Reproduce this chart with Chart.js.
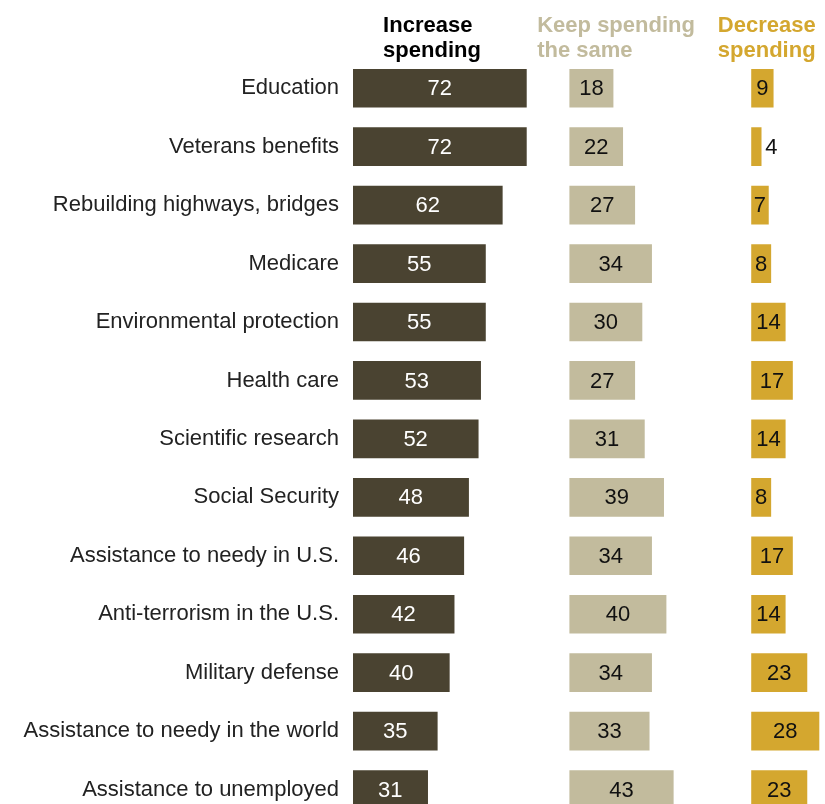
<!DOCTYPE html>
<html>
<head>
<meta charset="utf-8">
<script src="https://cdn.jsdelivr.net/npm/chart.js@4.4.1/dist/chart.umd.min.js"></script>
<style>
  html, body { margin: 0; padding: 0; background: #fff; overflow: hidden; }
  canvas { display: block; }
</style>
</head>
<body>
<canvas id="myChart" width="825" height="846"></canvas>
<script>
const categories = [
  "Education",
  "Veterans benefits",
  "Rebuilding highways, bridges",
  "Medicare",
  "Environmental protection",
  "Health care",
  "Scientific research",
  "Social Security",
  "Assistance to needy in U.S.",
  "Anti-terrorism in the U.S.",
  "Military defense",
  "Assistance to needy in the world",
  "Assistance to unemployed",
];
const increase = [72, 72, 62, 55, 55, 53, 52, 48, 46, 42, 40, 35, 31];
const keepSame = [18, 22, 27, 34, 30, 27, 31, 39, 34, 40, 34, 33, 43];
const decrease = [9, 4, 7, 8, 14, 17, 14, 8, 17, 14, 23, 28, 23];
const columnTitles = [
  ["Increase", "spending"],
  ["Keep spending", "the same"],
  ["Decrease", "spending"],
];

// each column sits at its own start on one shared x scale
const columnStart = [0, 90, 165.5];
const headerX = [12.5, 76.5, 151.5];
const barColors = ["#4a4331", "#c2bb9d", "#d4a72f"];
const titleColors = ["#000000", "#c2bb9d", "#d4a72f"];
const textColors = ["#ffffff", "#111111", "#111111"];
const FONT = "'Liberation Sans', Arial, sans-serif";

const series = [increase, keepSame, decrease];

const valueLabels = {
  id: "valueLabels",
  afterDatasetsDraw(chart) {
    const ctx = chart.ctx;
    ctx.save();
    ctx.font = "22px " + FONT;
    ctx.textBaseline = "middle";
    chart.data.datasets.forEach((ds, d) => {
      const meta = chart.getDatasetMeta(d);
      meta.data.forEach((bar, i) => {
        const v = series[d][i];
        const left = Math.min(bar.x, bar.base);
        const right = Math.max(bar.x, bar.base);
        if (right - left < 14) {
          ctx.fillStyle = "#111111";
          ctx.textAlign = "left";
          ctx.fillText(String(v), right + 4, bar.y + 1);
        } else {
          ctx.fillStyle = textColors[d];
          ctx.textAlign = "center";
          ctx.fillText(String(v), (left + right) / 2, bar.y + 1);
        }
      });
    });
    ctx.restore();
  },
};

const columnHeaders = {
  id: "columnHeaders",
  afterDraw(chart) {
    const ctx = chart.ctx;
    const x = chart.scales.x;
    ctx.save();
    ctx.font = "bold 22px " + FONT;
    ctx.textAlign = "left";
    ctx.textBaseline = "alphabetic";
    columnTitles.forEach((lines, c) => {
      ctx.fillStyle = titleColors[c];
      lines.forEach((line, k) => {
        ctx.fillText(line, x.getPixelForValue(headerX[c]), 32 + k * 25);
      });
    });
    ctx.restore();
  },
};

const ctx = document.getElementById("myChart").getContext("2d");
const myChart = new Chart(ctx, {
  type: "bar",
  data: {
    labels: categories,
    datasets: series.map((vals, d) => ({
      data: vals.map((v) => [columnStart[d], columnStart[d] + v]),
      backgroundColor: barColors[d],
      borderWidth: 0,
      grouped: false,
      barThickness: 38,
    })),
  },
  options: {
    indexAxis: "y",
    responsive: false,
    animation: false,
    layout: { padding: { top: 59, left: 0, right: 0, bottom: 0 } },
    plugins: {
      legend: { display: false },
      tooltip: { enabled: false },
    },
    scales: {
      x: {
        display: false,
        min: 0,
        max: 196,
      },
      y: {
        afterFit(scale) {
          scale.width = 353;
        },
        border: { display: false },
        grid: { display: false, drawTicks: false },
        ticks: {
          padding: 14,
          color: "#222222",
          font: { family: FONT, size: 22 },
        },
      },
    },
  },
  plugins: [valueLabels, columnHeaders],
});
</script>
</body>
</html>
